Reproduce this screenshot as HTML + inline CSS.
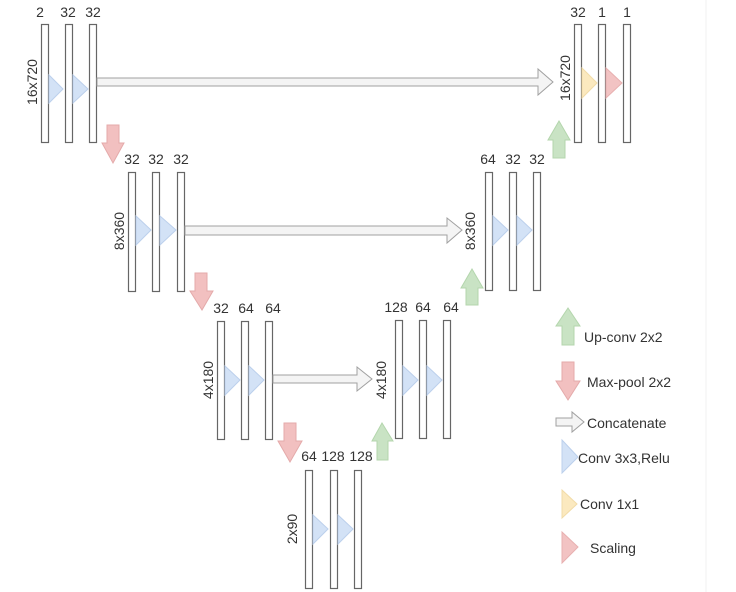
<!DOCTYPE html>
<html><head><meta charset="utf-8"><style>
html,body{margin:0;padding:0;background:#fff;width:736px;height:592px;overflow:hidden}
text{font-family:"Liberation Sans",sans-serif;fill:#333;font-size:14px}
</style></head><body>
<svg width="736" height="592" viewBox="0 0 736 592" xmlns="http://www.w3.org/2000/svg">
<defs>
<style>
.b{fill:#fff;stroke:#666;stroke-width:1.2}
.cv{fill:#d3e2f6;stroke:#bcd0ec;stroke-width:1}
.y{fill:#fbe9bf;stroke:#f2dca8}
.r{fill:#f2c3c3;stroke:#e8b0b0}
.dn{fill:#f2c0c0;stroke:#e4aaaa}
.up{fill:#c9e3c4;stroke:#b4d6ad}
.cc{fill:#f4f4f4;stroke:#a0a0a0;stroke-width:1}
</style>
</defs>
<line x1="706" y1="0" x2="706" y2="592" stroke="#f0f0f0"/>
<!-- Level 1 left -->
<rect class="b" x="41.5" y="24.5" width="7" height="118"/>
<rect class="b" x="65.5" y="24.5" width="7" height="118"/>
<rect class="b" x="89.5" y="24.5" width="7" height="118"/>
<text x="40" y="17" text-anchor="middle">2</text><text x="68" y="17" text-anchor="middle">32</text><text x="93" y="17" text-anchor="middle">32</text>
<text transform="translate(37,82) rotate(-90)" text-anchor="middle">16x720</text>
<polygon class="cv" points="49,75 63,89 49,103"/>
<polygon class="cv" points="73,75 88,89 73,103"/>
<!-- concat 1 -->
<polygon class="cc" points="97,78 538,78 538,69 553,82 538,95 538,86 97,86"/>
<!-- Level 1 right -->
<rect class="b" x="574.5" y="24.5" width="7" height="118"/>
<rect class="b" x="598.5" y="24.5" width="7" height="118"/>
<rect class="b" x="623.5" y="24.5" width="7" height="118"/>
<text x="578" y="17" text-anchor="middle">32</text><text x="602" y="17" text-anchor="middle">1</text><text x="627" y="17" text-anchor="middle">1</text>
<text transform="translate(570,78) rotate(-90)" text-anchor="middle">16x720</text>
<polygon class="y" points="582,68 597,83 582,98"/>
<polygon class="r" points="606,68 622,83 606,98"/>
<polygon class="up" points="553,158 553,140 548,140 559,121 570,140 565,140 565,158"/>
<!-- pool 1 -->
<polygon class="dn" points="107,125 119,125 119,143 124,143 113,163 102,143 107,143"/>
<!-- Level 2 left -->
<rect class="b" x="128.5" y="172.5" width="7" height="119"/>
<rect class="b" x="152.5" y="172.5" width="7" height="119"/>
<rect class="b" x="177.5" y="172.5" width="7" height="119"/>
<text x="132" y="164" text-anchor="middle">32</text><text x="156" y="164" text-anchor="middle">32</text><text x="181" y="164" text-anchor="middle">32</text>
<text transform="translate(124,231) rotate(-90)" text-anchor="middle">8x360</text>
<polygon class="cv" points="136,216 151,230 136,245"/>
<polygon class="cv" points="160,216 176,230 160,245"/>
<polygon class="cc" points="185,226 447,226 447,218 462,230 447,243 447,235 185,235"/>
<!-- Level 2 right -->
<rect class="b" x="485.5" y="172.5" width="7" height="118"/>
<rect class="b" x="509.5" y="172.5" width="7" height="118"/>
<rect class="b" x="533.5" y="172.5" width="7" height="118"/>
<text x="488" y="164" text-anchor="middle">64</text><text x="513" y="164" text-anchor="middle">32</text><text x="537" y="164" text-anchor="middle">32</text>
<text transform="translate(475,231) rotate(-90)" text-anchor="middle">8x360</text>
<polygon class="cv" points="493,216 508,230 493,245"/>
<polygon class="cv" points="517,216 532,230 517,245"/>
<polygon class="up" points="466,305 466,288 461,288 472,269 483,288 478,288 478,305"/>
<!-- pool 2 -->
<polygon class="dn" points="195,273 207,273 207,291 213,291 202,310 190,291 195,291"/>
<!-- Level 3 left -->
<rect class="b" x="217.5" y="321.5" width="7" height="118"/>
<rect class="b" x="241.5" y="321.5" width="7" height="118"/>
<rect class="b" x="265.5" y="321.5" width="7" height="118"/>
<text x="221" y="313" text-anchor="middle">32</text><text x="246" y="313" text-anchor="middle">64</text><text x="273" y="313" text-anchor="middle">64</text>
<text transform="translate(213,380) rotate(-90)" text-anchor="middle">4x180</text>
<polygon class="cv" points="225,366 240,380 225,395"/>
<polygon class="cv" points="249,366 264,380 249,395"/>
<polygon class="cc" points="273,375 357,375 357,367 372,379 357,391 357,383 273,383"/>
<!-- Level 3 right -->
<rect class="b" x="395.5" y="320.5" width="7" height="118"/>
<rect class="b" x="419.5" y="320.5" width="7" height="118"/>
<rect class="b" x="443.5" y="320.5" width="7" height="118"/>
<text x="396" y="312" text-anchor="middle">128</text><text x="423" y="312" text-anchor="middle">64</text><text x="451" y="312" text-anchor="middle">64</text>
<text transform="translate(386,380) rotate(-90)" text-anchor="middle">4x180</text>
<polygon class="cv" points="403,366 418,380 403,395"/>
<polygon class="cv" points="427,366 442,380 427,395"/>
<polygon class="up" points="377,460 377,441 372,441 382,423 393,441 388,441 388,460"/>
<!-- pool 3 -->
<polygon class="dn" points="284,423 296,423 296,441 302,441 290,462 278,441 284,441"/>
<!-- Level 4 -->
<rect class="b" x="305.5" y="470.5" width="7" height="118"/>
<rect class="b" x="330.5" y="470.5" width="7" height="118"/>
<rect class="b" x="354.5" y="470.5" width="7" height="118"/>
<text x="309" y="461" text-anchor="middle">64</text><text x="333" y="461" text-anchor="middle">128</text><text x="361" y="461" text-anchor="middle">128</text>
<text transform="translate(297,529) rotate(-90)" text-anchor="middle">2x90</text>
<polygon class="cv" points="313,515 328,529 313,544"/>
<polygon class="cv" points="338,515 353,529 338,544"/>
<!-- Legend -->
<polygon class="up" points="562,345 562,326 556,326 568,308 580,326 574,326 574,345"/>
<text x="584" y="342">Up-conv 2x2</text>
<polygon class="dn" points="562,362 574,362 574,381 580,381 568,400 556,381 562,381"/>
<text x="587" y="387">Max-pool 2x2</text>
<polygon class="cc" points="556,418 572,418 572,412 584,422 572,432 572,426 556,426"/>
<text x="587" y="428">Concatenate</text>
<polygon class="cv" points="562,440 578,457 562,473"/>
<text x="578" y="463">Conv 3x3,Relu</text>
<polygon class="y" points="562,490 577,504 562,518"/>
<text x="580" y="509">Conv 1x1</text>
<polygon class="r" points="562,532 578,547 562,563"/>
<text x="590" y="553">Scaling</text>
</svg>
</body></html>
